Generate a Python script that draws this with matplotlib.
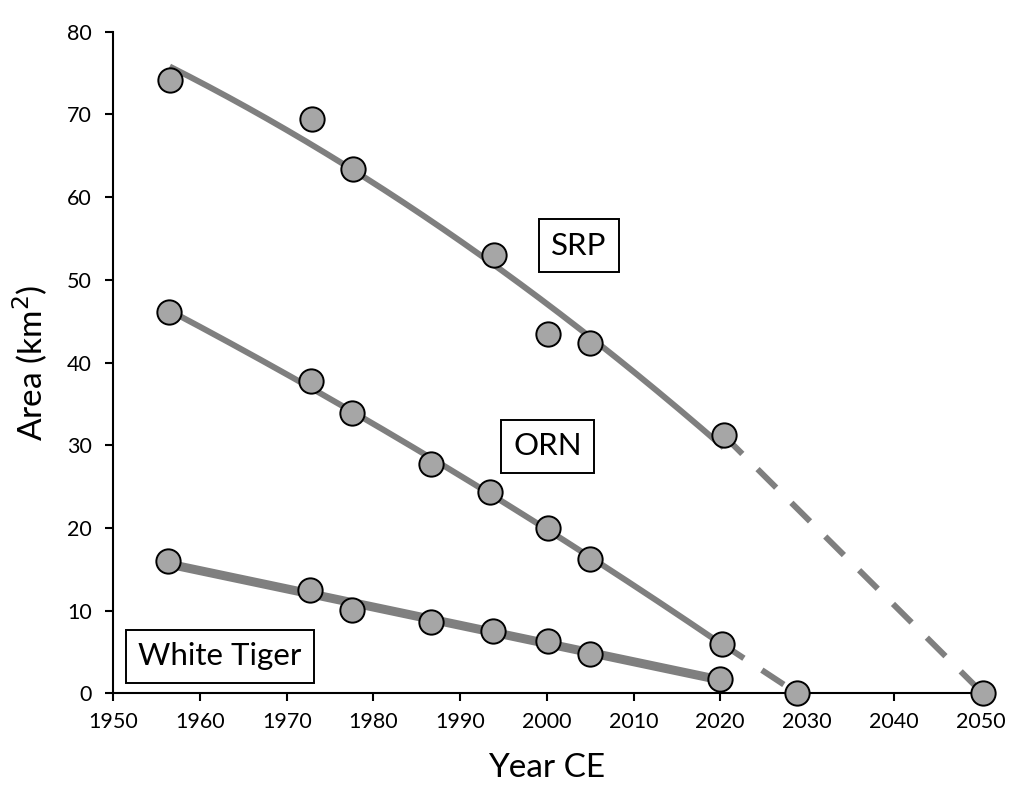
import numpy as np
import matplotlib
matplotlib.use("Agg")
import matplotlib.pyplot as plt

plt.rcParams['font.family'] = ['Lato', 'DejaVu Sans']

# data
srp_years = [1956.5, 1972.9, 1977.6, 1993.9, 2000.1, 2005.0, 2020.4]
srp_area = [74.2, 69.5, 63.4, 53.0, 43.4, 42.4, 31.2]
orn_years = [1956.4, 1972.8, 1977.5, 1986.6, 1993.4, 2000.1, 2005.0, 2020.2]
orn_area = [46.1, 37.8, 33.9, 27.8, 24.3, 20.0, 16.3, 6.0]
wt_years = [1956.3, 1972.7, 1977.5, 1986.6, 1993.8, 2000.1, 2005.0, 2020.0]
wt_area = [16.0, 12.5, 10.1, 8.6, 7.6, 6.3, 4.8, 1.8]

# projected zero-area years
srp_end = [2050.3, 0.0]
orn_end = [2028.9, 0.0]

line_col = '#7f7f7f'
face_col = '#a6a6a6'

fig = plt.figure(figsize=(10.33, 7.97), dpi=100)
ax = fig.add_axes([0.1097, 0.1299, 0.8393, 0.8303])

# fitted trends
def trend(x, y, deg, lw):
    c = np.polyfit(x, y, deg)
    xx = np.linspace(x[0], x[-1], 200)
    ax.plot(xx, np.polyval(c, xx), color=line_col, lw=lw, zorder=2,
            solid_capstyle='butt')

trend(srp_years, srp_area, 2, 4.3)
trend(orn_years, orn_area, 2, 4.3)
trend(wt_years, wt_area, 1, 6.5)

# dashed projections
for yrs, vals, end in [(srp_years, srp_area, srp_end), (orn_years, orn_area, orn_end)]:
    ax.plot([yrs[-1], end[0]], [vals[-1], end[1]], color=line_col, lw=4.3,
            dashes=(4.4, 3.6), zorder=2)

mk = dict(marker='o', ms=17.5, mfc=face_col, mec='black', mew=1.4,
          ls='none', zorder=4, clip_on=False)
ax.plot(srp_years, srp_area, **mk)
ax.plot(orn_years, orn_area, **mk)
ax.plot(wt_years, wt_area, **mk)
ax.plot([srp_end[0], orn_end[0]], [srp_end[1], orn_end[1]], **mk)

box = dict(boxstyle='square,pad=0.4', fc='white', ec='black', lw=1.4)
ax.text(2003.7, 54.1, 'SRP', fontsize=22.5, ha='center', va='center', bbox=box, zorder=5)
ax.text(2000.1, 29.9, 'ORN', fontsize=22.5, ha='center', va='center', bbox=box, zorder=5)
ax.text(1962.3, 4.5, 'White Tiger', fontsize=22.5, ha='center', va='center', bbox=box, zorder=5)

ax.set_xlim(1950, 2050)
ax.set_ylim(0, 80)
ax.set_xticks(np.arange(1950, 2051, 10))
ax.set_yticks(np.arange(0, 81, 10))
for s in ['top', 'right']:
    ax.spines[s].set_visible(False)
for s in ['left', 'bottom']:
    ax.spines[s].set_linewidth(1.5)
ax.tick_params(direction='out', length=5.5, width=1.5, labelsize=15.5)
ax.tick_params(axis='y', pad=10)
ax.tick_params(axis='x', pad=8)

ax.set_xlabel('Year CE', fontsize=24, labelpad=15)
ax.set_ylabel('Area (km$^2$)', fontsize=24, labelpad=12)

fig.savefig('out.png', dpi=100)
